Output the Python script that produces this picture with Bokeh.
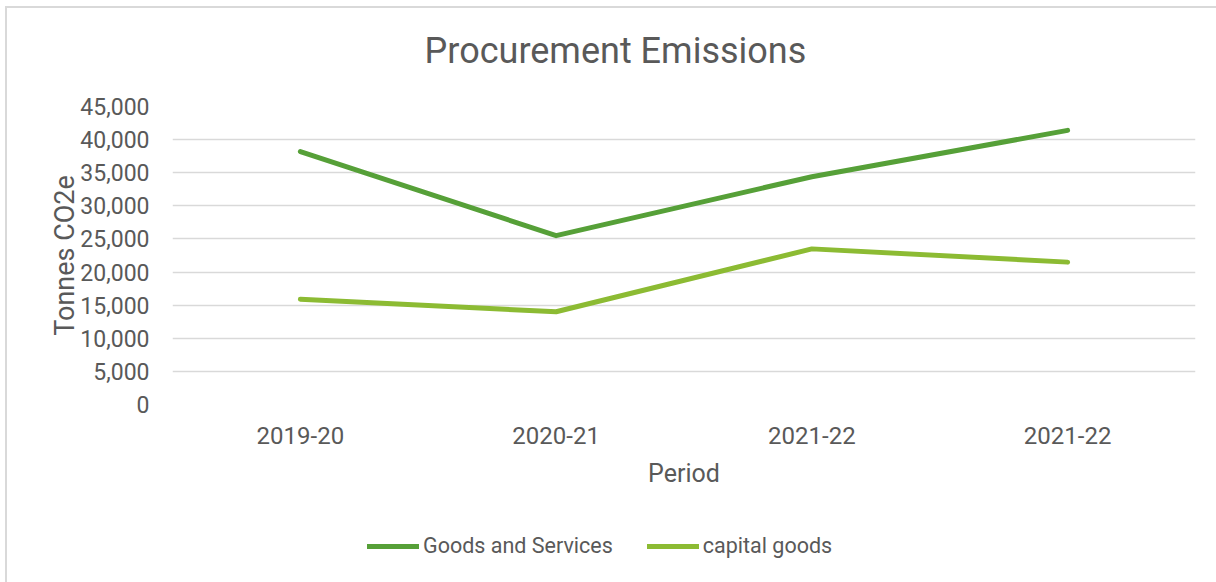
from bokeh.plotting import figure
from bokeh.layouts import column
from bokeh.models import (Range1d, FixedTicker, NumeralTickFormatter, Legend, LegendItem, Label)
from bokeh.embed import file_html
from bokeh.resources import INLINE

# ---- data ----
title_text = "Procurement Emissions"
periods = ["2019-20", "2020-21", "2021-22", "2021-22"]
goods_and_services = [38200, 25500, 34400, 41400]
capital_goods = [15900, 14000, 23500, 21500]
series_names = ["Goods and Services", "capital goods"]
y_ticks = [0, 5000, 10000, 15000, 20000, 25000, 30000, 35000, 40000, 45000]

xs = list(range(1, len(periods) + 1))

TXT = "#595959"
FONT = "Roboto"
C1 = "#56A038"
C2 = "#8CBB33"
W = 1209


def bare(fig):
    fig.outline_line_color = None
    fig.xgrid.grid_line_color = None
    fig.ygrid.grid_line_color = None
    return fig


# ---- title strip ----
pt = bare(figure(width=W, height=84, output_backend="svg", toolbar_location=None,
                 x_range=Range1d(0, 1), y_range=Range1d(0, 1), min_border=0,
                 x_axis_location=None, y_axis_location=None))
pt.add_layout(Label(x=0.433, y=0.5, text=title_text, text_align="center", text_baseline="middle",
                    text_font=FONT, text_font_size="36px", text_color=TXT))

# ---- main chart ----
p = figure(frame_width=1023, frame_height=298, output_backend="svg", toolbar_location=None,
           x_range=Range1d(0.5, len(periods) + 0.5), y_range=Range1d(0, 45000),
           min_border_left=165, min_border_right=21, min_border_top=14, min_border_bottom=100)
p.outline_line_color = None
p.xgrid.grid_line_color = None
p.ygrid.grid_line_color = "#d9d9d9"
p.ygrid.grid_line_width = 1.5

p.yaxis.ticker = FixedTicker(ticks=y_ticks)
p.yaxis.formatter = NumeralTickFormatter(format="0,0")
p.xaxis.ticker = FixedTicker(ticks=xs)
p.xaxis.major_label_overrides = {x: lab for x, lab in zip(xs, periods)}

for ax in (p.xaxis[0], p.yaxis[0]):
    ax.axis_line_color = None
    ax.major_tick_line_color = None
    ax.minor_tick_line_color = None
    ax.major_label_text_font = FONT
    ax.major_label_text_font_size = "23px"
    ax.major_label_text_color = TXT
    ax.axis_label_text_font = FONT
    ax.axis_label_text_font_style = "normal"
    ax.axis_label_text_color = TXT

p.xaxis.major_label_text_font_size = "24px"
p.yaxis.axis_label = "Tonnes CO2e"
p.yaxis.axis_label_text_font_size = "27px"
p.yaxis.major_label_standoff = 17
p.yaxis.axis_label_standoff = -4
p.xaxis.axis_label = "Period"
p.xaxis.axis_label_text_font_size = "25px"
p.xaxis.major_label_standoff = 16
p.xaxis.axis_label_standoff = 12

p.line(xs, goods_and_services, line_color=C1, line_width=5, line_cap="round", line_join="round")
p.line(xs, capital_goods, line_color=C2, line_width=5, line_cap="round", line_join="round")

# ---- legend strip (same series, drawn outside its visible range; only the legend shows) ----
pl = bare(figure(width=W, height=78, output_backend="svg", toolbar_location=None,
                 x_range=Range1d(0.5, len(periods) + 0.5), y_range=Range1d(-2, -1), min_border=0,
                 x_axis_location=None, y_axis_location=None))
l1 = pl.line(xs, goods_and_services, line_color=C1, line_width=5, line_cap="round")
l2 = pl.line(xs, capital_goods, line_color=C2, line_width=5, line_cap="round")

legend = Legend(items=[LegendItem(label=series_names[0], renderers=[l1]),
                       LegendItem(label=series_names[1], renderers=[l2])],
                orientation="horizontal", location=(195, 24))
legend.label_text_font = FONT
legend.label_text_font_size = "21.5px"
legend.label_text_color = TXT
legend.glyph_width = 52
legend.glyph_height = 24
legend.label_standoff = 4
legend.spacing = 34
legend.border_line_color = None
legend.background_fill_alpha = 0
legend.margin = 0
legend.padding = 0
pl.add_layout(legend, "center")

page = column(pt, p, pl, spacing=0)
page.styles = {"margin-left": "5px", "margin-top": "6px",
               "border-left": "2px solid #d9d9d9", "border-top": "2px solid #d9d9d9"}

open("out.html", "w").write(file_html(page, INLINE))
